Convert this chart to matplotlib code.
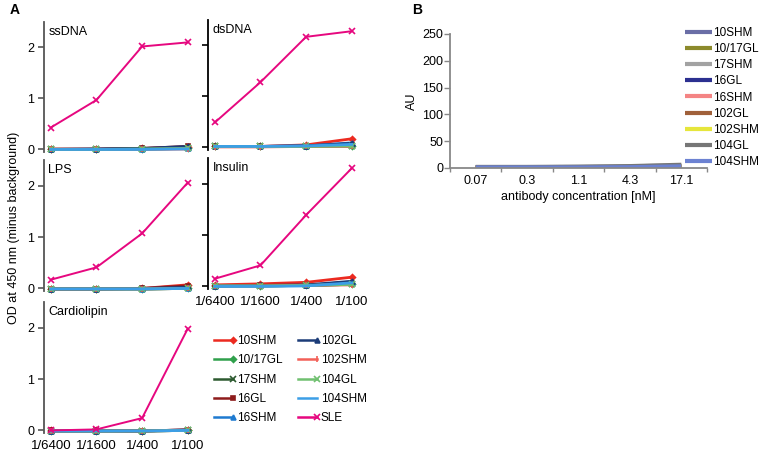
#!/usr/bin/env python3
import numpy as np
import matplotlib
matplotlib.use('Agg')
import matplotlib.pyplot as plt
from matplotlib.lines import Line2D
from matplotlib.legend_handler import HandlerLine2D

plt.rcParams['font.family'] = ['Liberation Sans', 'DejaVu Sans']

# panel A: ELISA, OD at 450 nm vs serum dilution
dilutions = ['1/6400', '1/1600', '1/400', '1/100']
antigens = ['ssDNA', 'dsDNA', 'LPS', 'Insulin', 'Cardiolipin']
series_a = ['10SHM', '10/17GL', '17SHM', '16GL', '16SHM',
            '102GL', '102SHM', '104GL', '104SHM', 'SLE']

od = {
  'ssDNA': {
    '10SHM':   [0.00, 0.00, 0.02, 0.05],
    '10/17GL': [0.00, 0.00, 0.01, 0.02],
    '17SHM':   [0.00, 0.00, 0.01, 0.02],
    '16GL':    [0.01, 0.01, 0.02, 0.06],
    '16SHM':   [0.00, 0.00, 0.01, 0.03],
    '102GL':   [0.00, 0.01, 0.02, 0.06],
    '102SHM':  [0.00, 0.00, 0.00, 0.01],
    '104GL':   [0.00, 0.00, 0.01, 0.02],
    '104SHM':  [0.00, 0.00, 0.00, 0.01],
    'SLE':     [0.43, 0.97, 2.02, 2.10],
  },
  'dsDNA': {
    '10SHM':   [0.02, 0.02, 0.05, 0.17],
    '10/17GL': [0.02, 0.02, 0.02, 0.03],
    '17SHM':   [0.02, 0.02, 0.02, 0.03],
    '16GL':    [0.02, 0.02, 0.03, 0.04],
    '16SHM':   [0.02, 0.02, 0.03, 0.09],
    '102GL':   [0.02, 0.02, 0.03, 0.08],
    '102SHM':  [0.01, 0.01, 0.02, 0.02],
    '104GL':   [0.02, 0.02, 0.02, 0.03],
    '104SHM':  [0.02, 0.02, 0.03, 0.06],
    'SLE':     [0.49, 1.28, 2.17, 2.28],
  },
  'LPS': {
    '10SHM':   [-0.01, -0.01, 0.00, 0.07],
    '10/17GL': [-0.01, -0.01, -0.01, 0.00],
    '17SHM':   [-0.01, -0.01, -0.01, 0.00],
    '16GL':    [-0.01, -0.01, 0.00, 0.05],
    '16SHM':   [-0.01, -0.01, -0.01, 0.01],
    '102GL':   [-0.01, -0.01, 0.00, 0.02],
    '102SHM':  [-0.01, -0.01, -0.01, 0.00],
    '104GL':   [-0.01, -0.01, -0.01, 0.00],
    '104SHM':  [-0.01, -0.01, -0.01, 0.00],
    'SLE':     [0.17, 0.41, 1.07, 2.06],
  },
  'Insulin': {
    '10SHM':   [0.03, 0.05, 0.08, 0.18],
    '10/17GL': [0.01, 0.01, 0.02, 0.04],
    '17SHM':   [0.01, 0.01, 0.02, 0.04],
    '16GL':    [0.01, 0.02, 0.02, 0.05],
    '16SHM':   [0.01, 0.02, 0.02, 0.09],
    '102GL':   [0.01, 0.02, 0.03, 0.10],
    '102SHM':  [0.01, 0.01, 0.02, 0.03],
    '104GL':   [0.01, 0.01, 0.02, 0.04],
    '104SHM':  [0.00, 0.00, 0.01, 0.07],
    'SLE':     [0.15, 0.41, 1.39, 2.30],
  },
  'Cardiolipin': {
    '10SHM':   [0.00, 0.00, -0.01, 0.01],
    '10/17GL': [-0.01, -0.01, -0.01, 0.00],
    '17SHM':   [-0.01, -0.01, -0.01, 0.00],
    '16GL':    [0.00, 0.00, -0.01, 0.01],
    '16SHM':   [-0.01, -0.01, -0.01, 0.00],
    '102GL':   [-0.01, -0.01, -0.01, 0.01],
    '102SHM':  [-0.01, -0.01, -0.01, 0.00],
    '104GL':   [-0.01, -0.01, -0.01, 0.00],
    '104SHM':  [-0.01, -0.01, -0.01, 0.00],
    'SLE':     [0.00, 0.02, 0.24, 1.98],
  },
}

colors_a = ['#ec2a20', '#30a04c', '#2d5a30', '#8e1c1c', '#1e7ad0',
            '#1c3c78', '#f26058', '#70c070', '#3c9ee6', '#e6077f']
markers_a = ['D', 'D', 'x', 's', '^', '^', '|', 'x', '', 'x']
msizes_a = [3, 3, 4, 3.5, 3.5, 3.5, 5, 4, 0, 5]

# panel B: AU vs antibody concentration
conc = ['0.07', '0.3', '1.1', '4.3', '17.1']
series_b = ['10SHM', '10/17GL', '17SHM', '16GL', '16SHM',
            '102GL', '102SHM', '104GL', '104SHM']
au = [
  [1.0, 1.0, 1.0, 1.5, 3.0],
  [1.0, 1.0, 1.0, 1.5, 3.0],
  [1.5, 1.5, 2.0, 3.0, 5.0],
  [0.5, 0.5, 0.5, 1.0, 2.0],
  [0.5, 0.5, 0.5, 1.0, 2.0],
  [0.0, 0.0, 0.0, 0.5, 2.5],
  [0.5, 0.5, 0.5, 1.0, 2.0],
  [2.0, 2.0, 2.5, 3.5, 6.0],
  [1.0, 1.0, 1.0, 1.5, 3.0],
]
colors_b = ['#6a6ea6', '#8c8a2c', '#a2a2a2', '#2c3090', '#f48484',
            '#a0603a', '#e6e63c', '#767676', '#6c82d2']


class EndMarker(HandlerLine2D):
  # legend line with its marker sitting on the right end
  def create_artists(self, legend, orig_handle, xdescent, ydescent,
                     width, height, fontsize, trans):
    y = (height - ydescent) / 2
    x0, x1 = -xdescent, width - xdescent
    line = Line2D([x0, x1], [y, y])
    self.update_prop(line, orig_handle, legend)
    line.set_marker('None')
    line.set_transform(trans)
    mk = Line2D([x1], [y])
    self.update_prop(mk, orig_handle, legend)
    mk.set_linestyle('None')
    mk.set_transform(trans)
    return [line, mk]


W, H = 760, 451
fig = plt.figure(figsize=(W / 100, H / 100), dpi=100)

def px_axes(x0, y0, x1, y1):
  # axes from pixel box (top-left origin)
  return fig.add_axes([x0 / W, 1 - y1 / H, (x1 - x0) / W, (y1 - y0) / H])

boxes = {
  'ssDNA':       (44, 22, 190, 152),
  'dsDNA':       (208, 20, 354, 150),
  'LPS':         (44, 160, 190, 291),
  'Insulin':     (208, 158, 354, 289),
  'Cardiolipin': (44, 302, 190, 433),
}

x = np.arange(len(dilutions))
for name in antigens:
  ax = px_axes(*boxes[name])
  left_col = boxes[name][0] < 100
  for s, c, m, ms in zip(series_a, colors_a, markers_a, msizes_a):
    lw = 1.4 if s == 'SLE' else 2.0
    ax.plot(x, od[name][s], color=c, lw=lw, marker=m if m else None,
            ms=ms, mew=1.2, zorder=3 if s == 'SLE' else 2, clip_on=False)
  ax.set_xlim(-0.15, 3.05)
  ax.set_ylim(-0.05, 2.5)
  for sp in ['top', 'right', 'bottom']:
    ax.spines[sp].set_visible(False)
  ax.spines['left'].set_color('#555555' if left_col else '#000000')
  ax.spines['left'].set_linewidth(1.3)
  ax.set_yticks([0, 1, 2])
  ax.tick_params(axis='y', length=4, width=1.2, labelsize=9,
                 color='#555555' if left_col else '#000000',
                 labelleft=left_col, pad=3)
  ax.set_xticks(x)
  if name in ('Insulin', 'Cardiolipin'):
    ax.set_xticklabels(dilutions, fontsize=9.5)
    ax.tick_params(axis='x', length=0, pad=5)
  else:
    ax.tick_params(axis='x', length=0, labelbottom=False)
  ax.text(0.03, 0.97, name, transform=ax.transAxes, fontsize=9,
          va='top', ha='left')

fig.text(14 / W, 1 - 228 / H, 'OD at 450 nm (minus background)',
         rotation=90, ha='center', va='center', fontsize=9)
fig.text(10 / W, 1 - 10 / H, 'A', fontsize=10, fontweight='bold',
         ha='left', va='center')

handles_a = [Line2D([0, 1], [0, 0], color=c, lw=1.8, marker=m if m else None,
                    ms=ms, mew=1.2)
             for c, m, ms in zip(colors_a, markers_a, msizes_a)]
fig.legend(handles_a, series_a, loc='upper left', ncol=2, frameon=False,
           bbox_to_anchor=(214 / W, 1 - 335 / H), borderaxespad=0,
           borderpad=0, handlelength=1.6, handletextpad=0.35,
           labelspacing=0.62, columnspacing=1.3, fontsize=8.5,
           handler_map={Line2D: EndMarker()})

# panel B
axb = px_axes(450, 34, 707, 168)
xb = np.arange(len(conc))
for s, vals, c in zip(series_b, au, colors_b):
  axb.plot(xb, vals, color=c, lw=3, label=s, solid_capstyle='butt')
axb.set_xlim(-0.5, 4.5)
axb.set_ylim(0, 250)
axb.set_yticks(np.arange(0, 251, 50))
axb.set_xticks(xb)
axb.set_xticklabels(conc)
axb.set_xticks(np.arange(-0.5, 4.6, 1), minor=True)
for sp in ['top', 'right']:
  axb.spines[sp].set_visible(False)
for sp in ['left', 'bottom']:
  axb.spines[sp].set_color('#888888')
  axb.spines[sp].set_linewidth(1.3)
axb.tick_params(axis='y', length=4, width=1, color='#888888',
                labelsize=9, pad=1)
axb.tick_params(axis='x', which='major', length=0, labelsize=9, pad=5)
axb.tick_params(axis='x', which='minor', length=3, width=1, color='#888888')
axb.set_ylabel('AU', fontsize=9)
axb.yaxis.set_label_coords(-(450 - 418) / 257, 0.5)
axb.set_xlabel('antibody concentration [nM]', fontsize=9, labelpad=3)
axb.legend(loc='upper left', frameon=False, bbox_to_anchor=(685 / W, 1 - 27 / H),
           bbox_transform=fig.transFigure, borderaxespad=0, borderpad=0,
           handlelength=2.3, handletextpad=0.1, labelspacing=0.35,
           fontsize=8.5)
fig.text(412 / W, 1 - 10 / H, 'B', fontsize=10, fontweight='bold',
         ha='left', va='center')

fig.savefig('out.png', dpi=100)
